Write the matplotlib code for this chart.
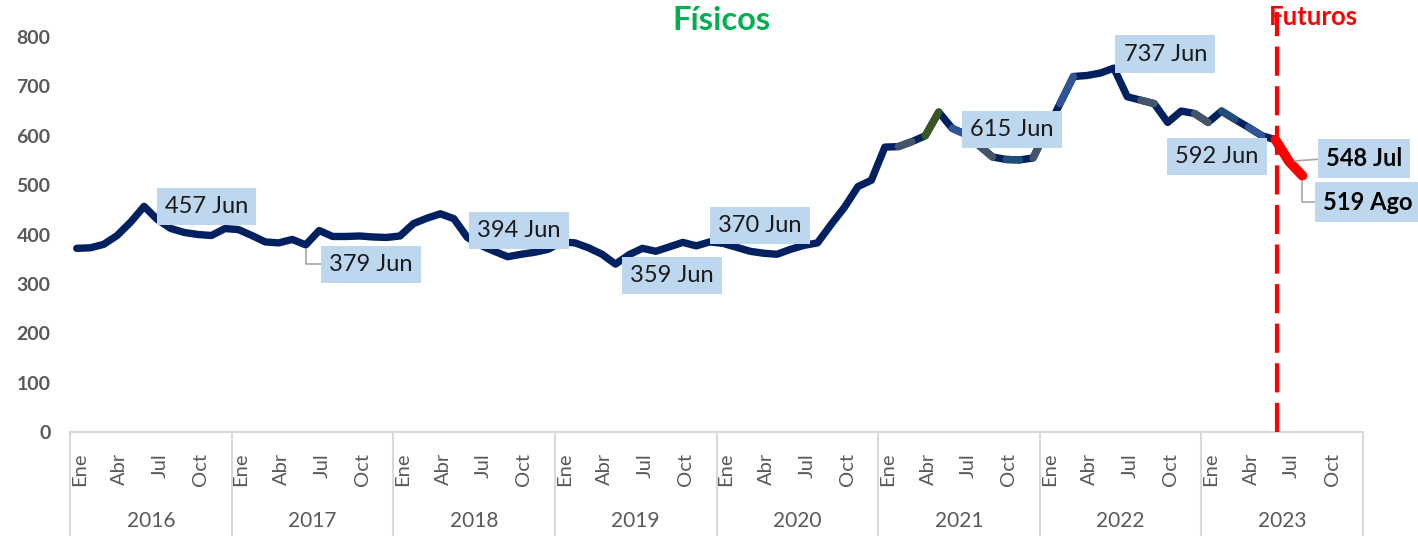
import matplotlib
matplotlib.use("Agg")
from matplotlib import pyplot as plt
from matplotlib.transforms import blended_transform_factory

plt.rcParams['font.family'] = ['Lato', 'DejaVu Sans']

## data ##
years = [2016, 2017, 2018, 2019, 2020, 2021, 2022, 2023]
months = ['Ene', 'Feb', 'Mar', 'Abr', 'May', 'Jun', 'Jul', 'Ago', 'Sep', 'Oct', 'Nov', 'Dic']
tick_months = ['Ene', 'Abr', 'Jul', 'Oct']

# precios fisicos, Ene 2016 - Jun 2023
fisicos = [
    372, 373, 380, 398, 425, 457, 430, 412, 404, 400, 398, 412,   # 2016
    410, 398, 385, 383, 390, 379, 408, 396, 396, 397, 395, 394,   # 2017
    397, 422, 433, 442, 432, 394, 378, 366, 355, 360, 364, 370,   # 2018
    385, 383, 373, 360, 340, 359, 372, 366, 375, 384, 377, 385,   # 2019
    382, 374, 366, 362, 360, 370, 378, 383, 420, 455, 497, 510,   # 2020
    577, 578, 588, 600, 648, 615, 603, 580, 557, 552, 551, 555,   # 2021
    610, 665, 720, 722, 727, 737, 679, 672, 665, 627, 650, 645,   # 2022
    627, 650, 633, 617, 600, 592,                                 # 2023
]
# futuros: Jun, Jul, Ago 2023
futuros = [592, 548, 519]
futuros_start = len(fisicos) - 1

# labelled points: (index, text)
labels_fis = [(5, '457 Jun'), (17, '379 Jun'), (29, '394 Jun'), (41, '359 Jun'),
              (53, '370 Jun'), (65, '615 Jun'), (77, '737 Jun'), (89, '592 Jun')]
labels_fut = [(1, '548 Jul'), (2, '519 Ago')]

## styling ##
NAVY = '#002060'
BOX = '#BDD7EE'
GRAY = '#595959'
AXGRAY = '#D9D9D9'
LW = 5.3
# a few segments drawn in other shades, as in the original sheet
seg_colors = {61: '#44546A', 63: '#385723', 65: '#2F5597', 67: '#44546A',
              69: '#1F4E79', 71: '#44546A', 73: '#2F5597', 79: '#44546A',
              83: '#44546A', 85: '#1F4E79', 87: '#2F5597'}

fig = plt.figure(figsize=(14.18, 5.36), dpi=100)
ax = fig.add_axes([70 / 1418, 1 - 432 / 536, (1363 - 70) / 1418, (432 - 37) / 536])

n_months = len(years) * 12
x_fis = list(range(len(fisicos)))
ax.plot(x_fis, fisicos, color=NAVY, lw=LW, solid_capstyle='round',
        solid_joinstyle='round', zorder=3)
for i, c in seg_colors.items():
    ax.plot(x_fis[i:i + 2], fisicos[i:i + 2], color=c, lw=LW,
            solid_capstyle='round', zorder=3.1)

x_fut = list(range(futuros_start, futuros_start + len(futuros)))
ax.plot(x_fut, futuros, color='red', lw=7, solid_capstyle='round',
        solid_joinstyle='round', zorder=4)

# linea de futuros
vline_x = futuros_start + 0.15
ax.plot([vline_x, vline_x], [0, 850], color='red', lw=3, ls=(0, (7, 2.5)),
        clip_on=False, zorder=5)

ax.set_xlim(-0.5, n_months - 0.5)
ax.set_ylim(0, 800)

# y axis
ax.set_yticks(range(0, 801, 100))
ax.tick_params(axis='y', length=0, pad=14, labelsize=14, labelcolor=GRAY)
for t in ax.get_yticklabels():
    t.set_fontweight('bold')

# x axis: month ticks + year groups
xt, xl = [], []
for k, y in enumerate(years):
    for m in tick_months:
        xt.append(k * 12 + months.index(m) + 0.2)
        xl.append(m)
ax.set_xticks(xt)
ax.set_xticklabels(xl, rotation=90, va='top', ha='center')
ax.tick_params(axis='x', length=0, pad=15, labelsize=14.5, labelcolor=GRAY)

for s in ['top', 'right', 'left']:
    ax.spines[s].set_visible(False)
ax.spines['bottom'].set_color(AXGRAY)
ax.spines['bottom'].set_linewidth(1.5)

trans = blended_transform_factory(ax.transData, ax.transAxes)
for k, y in enumerate(years):
    ax.plot([k * 12 - 0.5, k * 12 - 0.5], [0, -0.27], color=AXGRAY, lw=1.5,
            transform=trans, clip_on=False, zorder=0)
    ax.text(k * 12 + 5.5, -0.225, str(y), transform=trans, ha='center',
            va='center', fontsize=15, color=GRAY)
ax.plot([n_months - 0.5, n_months - 0.5], [0, -0.27], color=AXGRAY, lw=1.5,
        transform=trans, clip_on=False, zorder=0)

# etiquetas de datos
offsets = {5: (45, 0), 17: (47, -14), 29: (37, 5), 41: (31, -15),
           53: (-22, 17), 65: (43, -1), 77: (37, 10), 89: (-42, -12)}
for i, txt in labels_fis:
    dx, dy = offsets[i]
    arrow = None
    if i == 17:
        arrow = dict(arrowstyle='-', color='#A6A6A6', lw=1.2, relpos=(0, 0.5),
                     shrinkA=0, shrinkB=3,
                     connectionstyle='angle,angleA=0,angleB=90,rad=0')
    ax.annotate(txt, (i, fisicos[i]), xytext=(dx, dy), textcoords='offset points',
                ha='center', va='center', fontsize=17, color='#1a1a1a',
                bbox=dict(boxstyle='square,pad=0.35', fc=BOX, ec='none'),
                arrowprops=arrow, zorder=6, annotation_clip=False)

fut_offsets = {1: (54, 2), 2: (47, -19)}
for j, txt in labels_fut:
    dx, dy = fut_offsets[j]
    if j == 2:
        cs = 'angle,angleA=0,angleB=90,rad=0'
    else:
        cs = 'arc3'
    ax.annotate(txt, (x_fut[j], futuros[j]), xytext=(dx, dy), textcoords='offset points',
                ha='center', va='center', fontsize=17, fontweight='bold', color='black',
                bbox=dict(boxstyle='square,pad=0.35', fc=BOX, ec='none'),
                arrowprops=dict(arrowstyle='-', color='#A6A6A6', lw=1.2, relpos=(0, 0.5),
                                shrinkA=0, shrinkB=4, connectionstyle=cs),
                zorder=6, annotation_clip=False)

# titulos
fig.text(721 / 1418, 1 - 21 / 536, 'Físicos', ha='center', va='center',
         fontsize=23.5, fontweight='bold', color='#00B050')
fig.text(1313 / 1418, 1 - 17 / 536, 'Futuros', ha='center', va='center',
         fontsize=18.5, fontweight='bold', color='red')

fig.savefig('out.png', dpi=100)
